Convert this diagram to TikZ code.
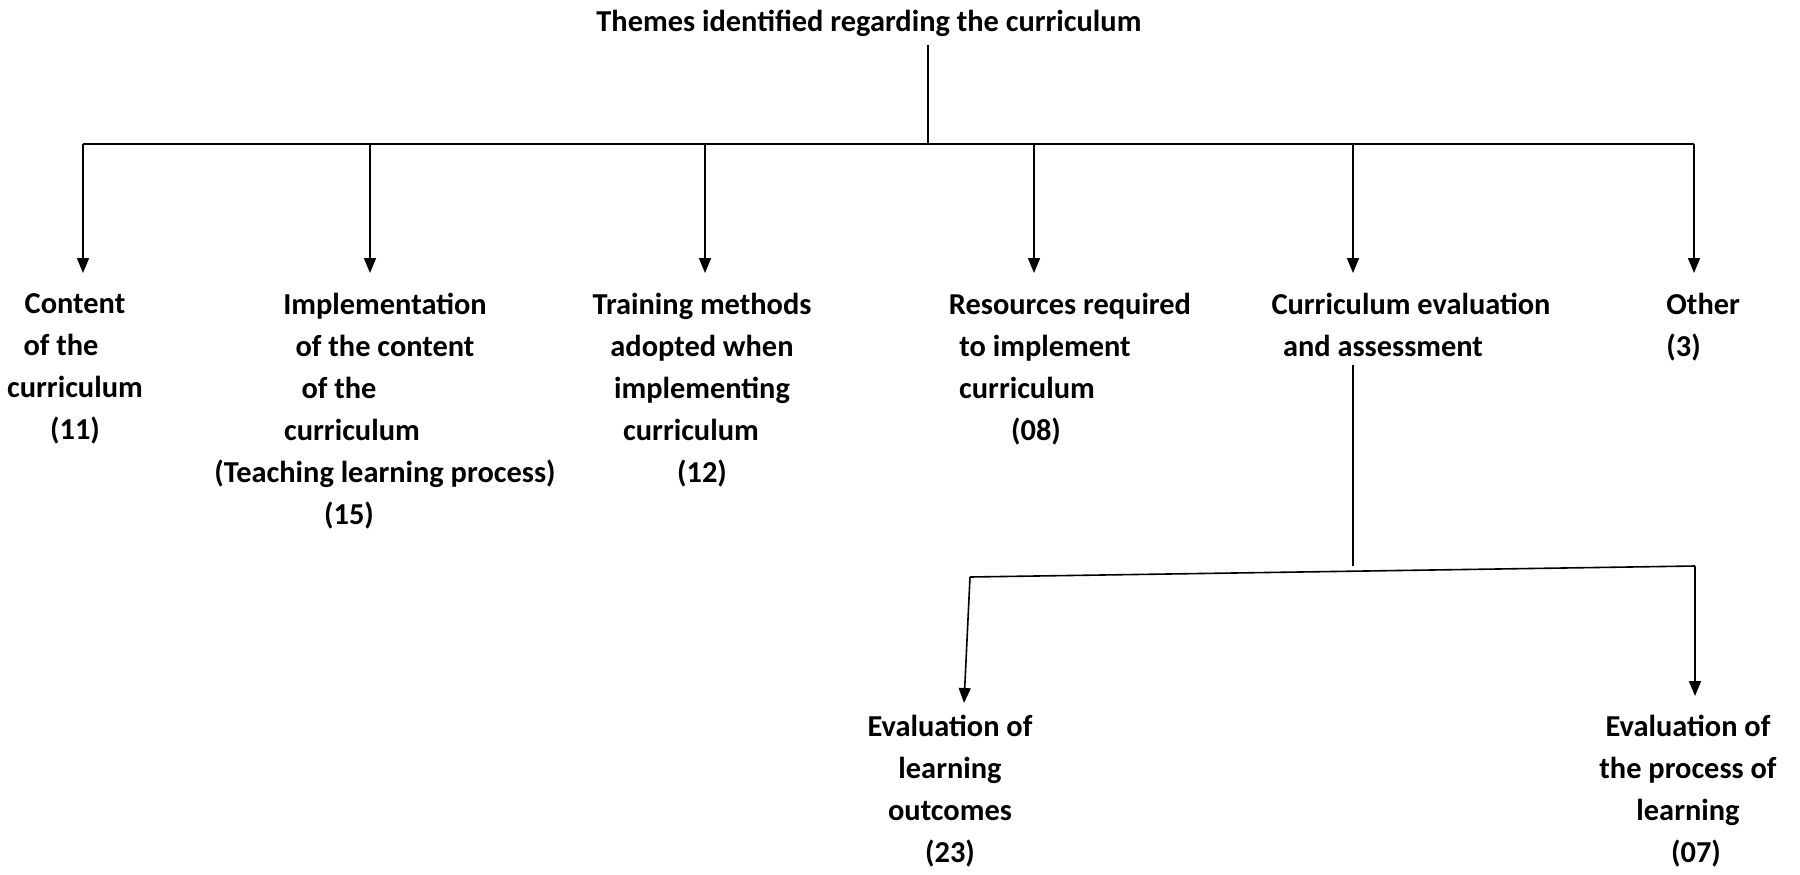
\documentclass[tikz,border=0pt]{standalone}
\usepackage{fontspec}
\setmainfont{Carlito}
\usepackage{tikz}
\usetikzlibrary{arrows.meta}

\tikzset{
  theme/.style={align=center, inner sep=0pt, anchor=north, font=\fontsize{15.2}{21}\selectfont\bfseries},
  link/.style={line width=0.8pt},
  arr/.style={link, -{Triangle[length=7.5pt,width=6pt]}}
}

\begin{document}
\begin{tikzpicture}[x=0.5pt,y=-0.5pt]
      \useasboundingbox (0,0) rectangle (1800,874);
      \node[theme] (title) at (869,10) {Themes identified regarding the curriculum};
      \coordinate (hub) at (928,144);
      \draw[link, shorten <=4pt] (title.south -| hub) -- (hub);
      \draw[line width=1.2pt] (83,144) coordinate (barl) -- (1694,144) coordinate (barr);
      \foreach \x/\n in {83/1, 370/2, 705/3, 1034/4, 1353/5, 1694/6} {
        \coordinate (drop\n) at (\x,144);
        \coordinate (tip\n) at (\x,273);
        \draw[arr] (drop\n) -- (tip\n);
      }

      \node[theme] (content) at (75,293) {Content\\\hspace*{-14pt}of the\\curriculum\\(11)};
      \node[theme] (implement) at (385,293) {Implementation\\of the content\\\hspace*{-46pt}of the\\\hspace*{-33pt}curriculum\\(Teaching learning process)\\\hspace*{-36pt}(15)};
      \node[theme] (training) at (702,293) {Training methods\\adopted when\\implementing\\\hspace*{-11pt}curriculum\\(12)};
      \node[theme] (resources) at (1045,293) {\hspace*{25pt}Resources required\\to implement\\\hspace*{-18pt}curriculum\\\hspace*{-9pt}(08)};
      \node[theme] (evaluation) at (1397,293) {\hspace*{14pt}Curriculum evaluation\\\hspace*{-14pt}and assessment};
      \node[theme, align=left, anchor=north west] (other) at (1666,293) {Other\\(3)};

      % second level
      \coordinate (hub2) at (1353,566);
      \draw[link, shorten <=4pt] (evaluation.south -| hub2) -- (hub2);
      \coordinate (lowl) at (970,577);
      \coordinate (lowr) at (1695,566);
      \draw[link] (lowl) -- (lowr);
      \coordinate (tip7) at (964,703);
      \coordinate (tip8) at (1695,696);
      \draw[arr] (lowl) -- (tip7);
      \draw[arr] (lowr) -- (tip8);

      \node[theme] (outcomes) at (950,715) {Evaluation of\\learning\\outcomes\\(23)};
      \node[theme] (process) at (1688,715) {Evaluation of\\the process of\\learning\\\hspace*{8pt}(07)};
\end{tikzpicture}
\end{document}
